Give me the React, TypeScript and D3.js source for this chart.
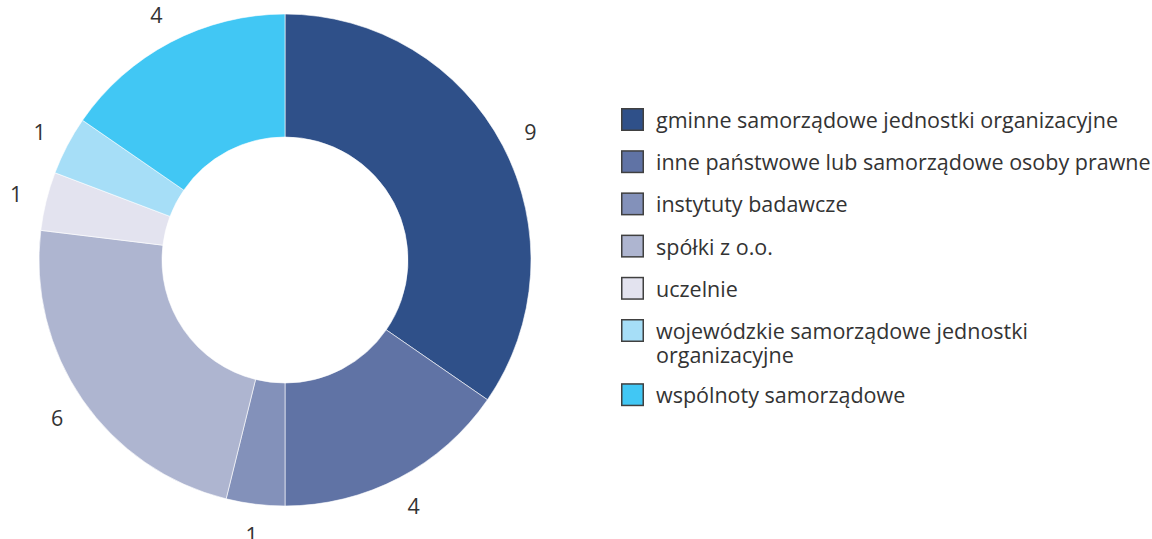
import { useEffect, useRef } from 'react';
import * as d3 from 'd3';

const categories = [
  'gminne samorządowe jednostki organizacyjne',
  'inne państwowe lub samorządowe osoby prawne',
  'instytuty badawcze',
  'spółki z o.o.',
  'uczelnie',
  'wojewódzkie samorządowe jednostki organizacyjne',
  'wspólnoty samorządowe',
];
const values = [9, 4, 1, 6, 1, 1, 4];
const colors = ['#2f5089', '#6073a5', '#8391ba', '#aeb5d0', '#e3e3ef', '#a6def7', '#41c7f4'];
// legend lines (where the legend wraps)
const legendLines = [
  ['gminne samorządowe jednostki organizacyjne'],
  ['inne państwowe lub samorządowe osoby prawne'],
  ['instytuty badawcze'],
  ['spółki z o.o.'],
  ['uczelnie'],
  ['wojewódzkie samorządowe jednostki', 'organizacyjne'],
  ['wspólnoty samorządowe'],
];

const W = 1152;
const H = 539;
const FONT = '"Open Sans", "Noto Sans", sans-serif';

export default function App() {
  const ref = useRef<SVGSVGElement | null>(null);

  useEffect(() => {
    if (!ref.current) return;
    const svg = d3.select(ref.current);
    svg.selectAll('*').remove();

    const cx = 285, cy = 260;
    const outerR = 246, innerR = 123;

    const data = values.map((v, i) => ({ v, i }));
    const pie = d3.pie<{ v: number; i: number }>().value(d => d.v).sort(null);
    const arcs = pie(data);
    const arc = d3.arc<d3.PieArcDatum<{ v: number; i: number }>>()
      .innerRadius(innerR).outerRadius(outerR);
    const labelArc = d3.arc<d3.PieArcDatum<{ v: number; i: number }>>()
      .innerRadius(277).outerRadius(277);

    const g = svg.append('g').attr('transform', `translate(${cx},${cy})`);
    g.selectAll('path.slice')
      .data(arcs)
      .enter()
      .append('path')
      .attr('class', 'slice')
      .attr('d', arc)
      .attr('fill', d => colors[d.data.i])
      .attr('stroke', '#ffffff')
      .attr('stroke-width', 0.6);

    g.selectAll('text.lbl')
      .data(arcs)
      .enter()
      .append('text')
      .attr('class', 'lbl')
      .attr('transform', d => {
        const [x, y] = labelArc.centroid(d);
        return `translate(${x},${y})`;
      })
      .attr('text-anchor', 'middle')
      .attr('dominant-baseline', 'central')
      .style('font-family', FONT)
      .style('font-size', '21.5px')
      .style('fill', '#333333')
      .text(d => String(d.data.v));

    // Legend
    const legend = svg.append('g').attr('transform', 'translate(621,108)');
    let y = 0;
    categories.forEach((c, i) => {
      const item = legend.append('g').attr('transform', `translate(0,${y})`);
      item.append('rect')
        .attr('x', 0.75).attr('y', 0.75)
        .attr('width', 21.5).attr('height', 21.5)
        .attr('fill', colors[i])
        .attr('stroke', '#404040')
        .attr('stroke-width', 1.5);
      const t = item.append('text')
        .style('font-family', FONT)
        .style('font-size', '21.5px')
        .style('fill', '#333333');
      legendLines[i].forEach((line, j) => {
        t.append('tspan')
          .attr('x', 35)
          .attr('y', 11.5 + j * 24)
          .attr('dominant-baseline', 'central')
          .text(line);
      });
      t.append('title').text(c);
      y += 42.2 + (legendLines[i].length - 1) * 22;
    });
  }, []);

  return (
    <svg
      ref={ref}
      width={W}
      height={H}
      style={{ position: 'absolute', left: 0, top: 0, background: '#ffffff' }}
    />
  );
}
